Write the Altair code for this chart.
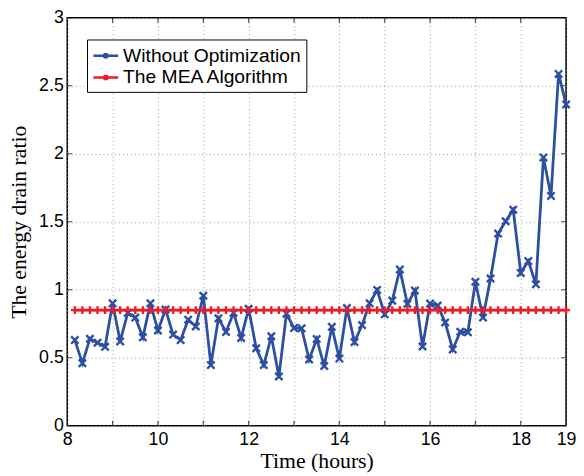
import altair as alt
import pandas as pd

# sample times: every 10 minutes from 8:10 to 19:00
times = [8 + k / 6 for k in range(1, 67)]

without_opt = [
    0.63, 0.46, 0.64, 0.61, 0.58, 0.90, 0.62, 0.83, 0.795, 0.65, 0.90, 0.70,
    0.855, 0.67, 0.63, 0.78, 0.73, 0.956, 0.446, 0.79, 0.69, 0.83, 0.646, 0.86, 0.57,
    0.446, 0.658, 0.362, 0.824, 0.718, 0.716, 0.487, 0.638, 0.439, 0.727, 0.494, 0.865,
    0.615, 0.74, 0.90, 0.999, 0.819, 0.92, 1.149, 0.896, 0.994, 0.583, 0.898, 0.884,
    0.759, 0.561, 0.691, 0.687, 1.059, 0.795, 1.083, 1.413, 1.504, 1.589, 1.124, 1.211, 1.040,
    1.973, 1.69, 2.587, 2.363,
]

mea = [
    0.85, 0.85, 0.85, 0.85, 0.85, 0.85, 0.85, 0.85, 0.85, 0.85, 0.85,
    0.85, 0.85, 0.85, 0.85, 0.85, 0.85, 0.85, 0.85, 0.85, 0.85, 0.85,
    0.85, 0.85, 0.85, 0.85, 0.85, 0.85, 0.85, 0.85, 0.85, 0.85, 0.85,
    0.85, 0.85, 0.85, 0.85, 0.85, 0.85, 0.85, 0.85, 0.85, 0.85, 0.85,
    0.85, 0.85, 0.85, 0.85, 0.85, 0.85, 0.85, 0.85, 0.85, 0.85, 0.85,
    0.85, 0.85, 0.85, 0.85, 0.85, 0.85, 0.85, 0.85, 0.85, 0.85, 0.85,
]

series_names = ["Without Optimization", "The MEA Algorithm"]
series_colors = ["#2C4FA3", "#EE1C25"]

x_ticks = [8, 9, 10, 11, 12, 13, 14, 15, 16, 17, 18, 19]
x_inner_ticks = [9, 10, 11, 12, 13, 14, 15, 16, 17, 18]
y_ticks = [0, 0.5, 1, 1.5, 2, 2.5, 3]

df = pd.DataFrame({
    "time": times + times,
    "value": without_opt + mea,
    "series": [series_names[0]] * len(times) + [series_names[1]] * len(times),
})
xt_df = pd.DataFrame({"v": x_inner_ticks})
yt_df = pd.DataFrame({"v": y_ticks})

W, H = 505, 413

PATH_X = "M-1,-1L1,1M-1,1L1,-1"
PATH_P = "M-1,0L1,0M0,-1L0,1"
LEG_SYM = "M-1.25,0L1.25,0M-0.22,-0.22L0.22,0.22M-0.22,0.22L0.22,-0.22M0,-0.28L0,0.28"

xscale = alt.Scale(domain=[8, 19], nice=False, zero=False)
yscale = alt.Scale(domain=[0, 3], nice=False)

xaxis = alt.Axis(
    values=x_ticks,
    labelExpr="(datum.value % 2 == 0 || datum.value == 19) ? datum.value : ''",
    title="Time (hours)",
    labelPadding=5,
    titlePadding=2,
    labelFlush=False,
)
yaxis = alt.Axis(values=y_ticks, format="~g", title="The energy drain ratio",
                 labelPadding=4, titlePadding=8, labelFlush=False)

color = alt.Color(
    "series:N",
    scale=alt.Scale(domain=series_names, range=series_colors),
    legend=alt.Legend(
        title=None,
        orient="none",
        legendX=20,
        legendY=22,
        fillColor="white",
        strokeColor="black",
        padding=5,
        labelFont="Liberation Sans",
        labelFontSize=19.5,
        labelColor="black",
        labelLimit=400,
        labelOffset=6,
        symbolSize=400,
        symbolOffset=2.5,
        symbolStrokeWidth=2.5,
        symbolType=LEG_SYM,
        rowPadding=1,
        cornerRadius=0,
    ),
)

base = alt.Chart(df)

lines = base.mark_line(strokeWidth=2.8).encode(
    x=alt.X("time:Q", scale=xscale, axis=xaxis),
    y=alt.Y("value:Q", scale=yscale, axis=yaxis),
    color=color,
)

points_blue = base.transform_filter(
    alt.datum.series == series_names[0]
).mark_point(filled=False, strokeWidth=2.4, size=55, opacity=1, shape=PATH_X).encode(
    x=alt.X("time:Q", scale=xscale),
    y=alt.Y("value:Q", scale=yscale),
    color=alt.Color("series:N", scale=alt.Scale(domain=series_names, range=series_colors)),
)
points_red = base.transform_filter(
    alt.datum.series == series_names[1]
).mark_point(filled=False, strokeWidth=2.4, size=60, opacity=1, shape=PATH_P).encode(
    x=alt.X("time:Q", scale=xscale),
    y=alt.Y("value:Q", scale=yscale),
    color=alt.Color("series:N", scale=alt.Scale(domain=series_names, range=series_colors)),
)

tick_style = dict(clip=True, size=10, thickness=1.2, color="black")
left_ticks = alt.Chart(yt_df).mark_tick(orient="horizontal", **tick_style).encode(
    y=alt.Y("v:Q", scale=yscale), x=alt.value(0))
right_ticks = alt.Chart(yt_df).mark_tick(orient="horizontal", **tick_style).encode(
    y=alt.Y("v:Q", scale=yscale), x=alt.value(W))
bottom_ticks = alt.Chart(xt_df).mark_tick(orient="vertical", **tick_style).encode(
    x=alt.X("v:Q", scale=xscale), y=alt.value(H))
top_ticks = alt.Chart(xt_df).mark_tick(orient="vertical", **tick_style).encode(
    x=alt.X("v:Q", scale=xscale), y=alt.value(0))

chart = alt.layer(
    left_ticks, right_ticks, bottom_ticks, top_ticks, lines, points_blue, points_red
).properties(
    width=W,
    height=H,
    autosize="none",
    padding={"left": 60, "top": 7, "right": 10, "bottom": 48},
).configure_view(
    stroke="black", strokeWidth=1.6
).configure_axis(
    domain=False,
    ticks=False,
    grid=True,
    gridColor="#9a9a9a",
    gridDash=[1, 3],
    gridWidth=1,
    labelFont="Liberation Sans",
    labelFontSize=18,
    labelColor="black",
    titleFont="Liberation Serif",
    titleFontSize=22,
    titleFontWeight="normal",
    titleColor="black",
)

chart.save("out.html", embed_options={"renderer": "svg", "actions": False})
